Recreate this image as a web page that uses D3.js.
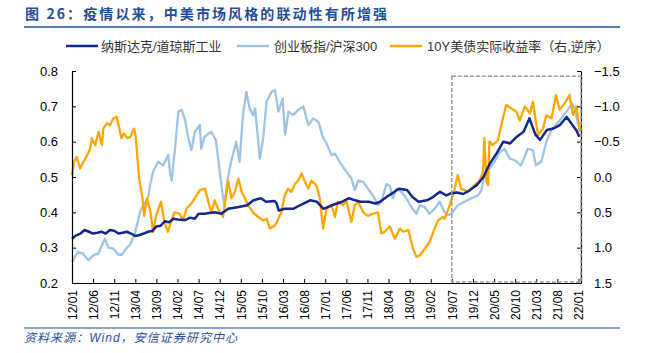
<!DOCTYPE html>
<html>
<head>
<meta charset="utf-8">
<script src="https://cdn.jsdelivr.net/npm/d3@7"></script>
<style>
  html, body { margin: 0; padding: 0; background: #fff; }
  svg { display: block; font-family: "Liberation Sans", Arial, "Noto Sans CJK SC", sans-serif; }
</style>
</head>
<body>
<div id="chart"></div>
<script>
// x = months since 2012-01
const tickLabels = ["12/01","12/06","12/11","13/04","13/09","14/02","14/07","14/12","15/05","15/10","16/03","16/08",
  "17/01","17/06","17/11","18/04","18/09","19/02","19/07","19/12","20/05","20/10","21/03","21/08","22/01"];
const seriesNames = ["纳斯达克/道琼斯工业", "创业板指/沪深300", "10Y美债实际收益率（右,逆序）"];

// 纳斯达克/道琼斯工业 (left axis)
const nasdaqDow = [
  [0,0.325],[1,0.335],[2,0.34],[3,0.35],[4,0.345],[5,0.34],[6,0.342],[7,0.345],[8,0.34],[9,0.35],[10,0.348],
  [11,0.34],[12,0.342],[13,0.345],[14,0.34],[15,0.333],[16,0.336],[17,0.34],[18,0.345],[19,0.347],[20,0.36],
  [21,0.362],[22,0.375],[23,0.372],[24,0.382],[25,0.38],[26.8,0.378],[28,0.385],[29.1,0.382],[30,0.396],
  [31.4,0.396],[33.8,0.4],[35.4,0.396],[37,0.41],[39.5,0.415],[41.5,0.42],[43,0.434],[44.7,0.44],[46,0.43],
  [48,0.432],[48.5,0.425],[49,0.405],[50.4,0.41],[52.4,0.41],[54,0.42],[56.4,0.434],[58,0.43],[59.2,0.415],
  [59.6,0.41],[61.6,0.42],[64,0.43],[65.6,0.44],[67.1,0.434],[68.3,0.43],[70.3,0.43],[71.9,0.425],[73,0.43],
  [74.6,0.444],[76,0.455],[77.4,0.467],[79.4,0.463],[80.6,0.444],[82.1,0.43],[84.1,0.434],[85.6,0.444],
  [87.2,0.458],[88.7,0.448],[89.6,0.453],[91.2,0.456],[92.7,0.452],[94.3,0.463],[95.9,0.477],[97.5,0.5],
  [99,0.538],[100.6,0.567],[102.2,0.6],[103.8,0.595],[105.4,0.614],[107,0.628],[108.4,0.666],[109.8,0.62],
  [110.9,0.605],[112.5,0.633],[114,0.637],[115.6,0.647],[117.2,0.67],[118.4,0.65],[119.6,0.63],[120.2,0.614]
];

// 创业板指/沪深300 (left axis)
const chinextHs300 = [
  [0,0.26],[1.4,0.288],[2.6,0.283],[3.9,0.264],[5,0.278],[6.2,0.283],[7.8,0.325],[8.6,0.3],[9.8,0.297],[11,0.28],
  [11.8,0.28],[13,0.3],[13.7,0.307],[14.9,0.34],[16.1,0.4],[16.9,0.42],[18.1,0.444],[18.5,0.477],[19.2,0.515],
  [20.4,0.543],[21.6,0.533],[22.8,0.562],[23.2,0.515],[23.6,0.49],[24.4,0.58],[25.2,0.685],[26,0.69],[26.8,0.66],
  [27.5,0.614],[28.3,0.576],[29.1,0.628],[30.3,0.647],[30.6,0.58],[31.4,0.614],[33,0.628],[34.1,0.604],[35,0.515],
  [35.7,0.45],[36.1,0.42],[36.9,0.496],[37.7,0.543],[38.9,0.6],[39.7,0.543],[40.5,0.675],[41.3,0.741],[42.1,0.694],
  [42.9,0.675],[43.4,0.694],[44.5,0.552],[45.3,0.61],[46.1,0.713],[47.3,0.741],[48.1,0.746],[48.9,0.685],
  [49.9,0.722],[50.5,0.62],[51.3,0.685],[52.4,0.675],[53.6,0.69],[54.8,0.7],[56,0.647],[57.2,0.666],[58.4,0.656],
  [59.5,0.61],[60.3,0.595],[61.5,0.562],[62.3,0.566],[63.4,0.543],[65,0.515],[66.2,0.496],[67,0.463],[67.8,0.49],
  [69,0.486],[70.1,0.467],[71.3,0.448],[72.5,0.42],[73.3,0.43],[74.5,0.48],[75.3,0.475],[76,0.44],[76.9,0.467],
  [78,0.458],[79.2,0.44],[80.4,0.415],[81.6,0.396],[82.4,0.42],[83.5,0.415],[84.7,0.396],[85.9,0.41],[87.1,0.43],
  [88.3,0.4],[89.1,0.392],[89.9,0.396],[91.4,0.42],[93,0.43],[94.6,0.44],[96.2,0.448],[97,0.463],[97.7,0.505],
  [98.9,0.524],[100.1,0.543],[101.3,0.57],[102.5,0.58],[103.7,0.552],[104.9,0.548],[106.4,0.533],[108,0.58],
  [109.2,0.576],[109.9,0.533],[111.2,0.543],[112.4,0.6],[113.6,0.633],[114.7,0.647],[115.9,0.666],[117.2,0.685],
  [118.4,0.708],[119.1,0.694],[119.9,0.65],[120.5,0.633]
];

// 10Y美债实际收益率, % (right axis, reversed)
const realYield = [
  [0,-0.025],[0.5,-0.215],[1.1,-0.285],[1.9,-0.12],[2.7,-0.215],[3.4,-0.285],[4.3,-0.4],[4.7,-0.55],[5.5,-0.45],
  [6.3,-0.64],[7.1,-0.45],[7.4,-0.685],[8.3,-0.76],[9,-0.735],[9.8,-0.83],[10.6,-0.85],[11.3,-0.665],[11.7,-0.55],
  [12.3,-0.615],[13.1,-0.55],[13.9,-0.57],[14.3,-0.64],[14.7,-0.685],[15.1,-0.57],[15.9,0.02],[16.7,0.3],
  [17.1,0.55],[17.8,0.3],[18.6,0.5],[19.2,0.775],[19.9,0.55],[21.1,0.35],[21.9,0.635],[22.7,0.775],[23.5,0.635],
  [24.3,0.5],[25.5,0.52],[26.3,0.615],[27.1,0.45],[28.3,0.375],[29.1,0.3],[30.3,0.185],[31.5,0.165],[32.3,0.35],
  [33,0.5],[33.8,0.33],[34.6,0.45],[35.8,0.565],[37,0.05],[37.8,0.3],[38.6,0.21],[39.4,0.02],[40.2,0.21],
  [41,0.3],[41.7,0.4],[42.9,0.5],[44.1,0.565],[45.3,0.615],[46.1,0.59],[46.9,0.73],[48.1,0.685],[48.9,0.59],
  [49.6,0.5],[50.4,0.26],[51.2,0.165],[52,0.21],[52.8,0.1],[53.6,0.05],[54.4,-0.05],[55.2,0.07],[56,0.165],
  [56.7,0.05],[57.9,0.115],[58.7,0.3],[59.5,0.73],[60.3,0.45],[61.5,0.4],[62.3,0.565],[63,0.35],[64.2,0.4],
  [65,0.33],[66.2,0.635],[67,0.4],[67.8,0.35],[69,0.5],[70.1,0.55],[71.3,0.52],[72.5,0.5],[73.3,0.8],[74.1,0.775],
  [75.3,0.7],[76.5,0.875],[77.7,0.73],[78.5,0.775],[79.7,0.75],[80.8,1.015],[81.6,1.13],[82.4,1.11],[83.6,1.015],
  [84.7,0.92],[85.9,0.73],[86.7,0.615],[87.9,0.565],[88.3,0.59],[89.5,0.4],[90.6,0.185],[91.4,-0.025],[92.2,0.165],
  [93.8,0.21],[95.4,0.115],[96.6,0.05],[97.4,-0.075],[97.7,-0.55],[98.2,0.07],[98.6,0.115],[98.9,-0.5],[99.7,-0.45],
  [100.9,-0.52],[102.1,-0.83],[102.9,-1.02],[104.1,-0.97],[105.3,-0.925],[106.1,-0.8],[107.3,-1.0],[108.5,-0.9],
  [109.2,-1.065],[110.4,-0.59],[111.6,-0.685],[112.4,-0.875],[113.6,-0.83],[114.7,-1.16],[115.5,-0.95],
  [116.7,-1.04],[117.9,-1.16],[118.7,-0.875],[119.5,-1.0],[120.3,-0.64]
];

const leftTicks = [0.2, 0.3, 0.4, 0.5, 0.6, 0.7, 0.8];
const rightTicks = [-1.5, -1.0, -0.5, 0.0, 0.5, 1.0, 1.5];
const highlightStart = 90; // 19/07

const width = 645, height = 353;
const plot = { left: 72, right: 581, top: 71, bottom: 283 };
const colors = ["#13288c", "#9dc3e6", "#ffa600"];
const titleBlue = "#1f4e9a";

const svg = d3.select("#chart").append("svg")
  .attr("width", width)
  .attr("height", height);

const x = d3.scaleLinear().domain([0, 120.6]).range([plot.left, plot.right]);
const yL = d3.scaleLinear().domain([0.2, 0.8]).range([plot.bottom, plot.top]);
const yR = d3.scaleLinear().domain([1.5, -1.5]).range([plot.bottom, plot.top]);

// Title
svg.append("text")
  .attr("x", 25).attr("y", 19)
  .attr("fill", titleBlue)
  .attr("font-size", 14).attr("font-weight", "bold")
  .attr("font-family", "'Noto Sans CJK SC', sans-serif")
  .attr("textLength", 362).attr("lengthAdjust", "spacing")
  .text("图 26：疫情以来，中美市场风格的联动性有所增强");
svg.append("line")
  .attr("x1", 24).attr("x2", 620).attr("y1", 27).attr("y2", 27)
  .attr("stroke", titleBlue).attr("stroke-width", 1.5);

// Legend
const legendItems = [
  { x: 66, tx: 101 },
  { x: 237, tx: 274 },
  { x: 390, tx: 427 }
];
legendItems.forEach((d, i) => {
  svg.append("line")
    .attr("x1", d.x).attr("x2", d.x + 32).attr("y1", 46).attr("y2", 46)
    .attr("stroke", colors[i]).attr("stroke-width", 2.5);
  svg.append("text")
    .attr("x", d.tx).attr("y", 51)
    .attr("font-size", 13).attr("fill", "#333")
    .text(seriesNames[i]);
});

// Series
const line = (yScale) => d3.line().x(d => x(d[0])).y(d => yScale(d[1]));
const g = svg.append("g");
g.append("path").datum(chinextHs300)
  .attr("d", line(yL)).attr("fill", "none")
  .attr("stroke", colors[1]).attr("stroke-width", 2.3).attr("stroke-linejoin", "round");
g.append("path").datum(realYield)
  .attr("d", line(yR)).attr("fill", "none")
  .attr("stroke", colors[2]).attr("stroke-width", 2.3).attr("stroke-linejoin", "round");
g.append("path").datum(nasdaqDow)
  .attr("d", line(yL)).attr("fill", "none")
  .attr("stroke", colors[0]).attr("stroke-width", 2.5).attr("stroke-linejoin", "round");

// Axes
const axisFont = 13;
const left = svg.append("g")
  .attr("transform", `translate(${plot.left},0)`)
  .call(d3.axisLeft(yL).tickValues(leftTicks).tickFormat(d3.format(".1f")).tickSizeInner(-4).tickSizeOuter(0).tickPadding(14));
const right = svg.append("g")
  .attr("transform", `translate(${plot.right},0)`)
  .call(d3.axisRight(yR).tickValues(rightTicks).tickFormat(d3.format(".1f")).tickSizeInner(-4).tickSizeOuter(0).tickPadding(13));
const bottom = svg.append("g")
  .attr("transform", `translate(0,${plot.bottom})`)
  .call(d3.axisBottom(x).tickValues(d3.range(0, 121, 5)).tickFormat((d, i) => tickLabels[i]).tickSizeInner(-4).tickSizeOuter(0));

[left, right, bottom].forEach(a => {
  a.selectAll("path.domain").attr("stroke", "#000").attr("stroke-width", 1.2);
  a.selectAll(".tick line").attr("stroke", "#000");
  a.selectAll("text").attr("font-size", axisFont).attr("fill", "#000")
    .attr("font-family", "'Liberation Sans', Arial, sans-serif");
});
bottom.selectAll(".tick text")
  .attr("transform", "rotate(-90)")
  .attr("text-anchor", "end")
  .attr("x", -7).attr("y", 0).attr("dy", "0.35em")
  .attr("font-size", 12);

// Highlight box
svg.append("rect")
  .attr("x", x(highlightStart)).attr("y", yL(0.785))
  .attr("width", plot.right - x(highlightStart))
  .attr("height", yL(0.203) - yL(0.785))
  .attr("fill", "none").attr("stroke", "#999")
  .attr("stroke-width", 1.5).attr("stroke-dasharray", "4,2");

// Source
svg.append("line")
  .attr("x1", 24).attr("x2", 620).attr("y1", 328).attr("y2", 328)
  .attr("stroke", titleBlue).attr("stroke-width", 1.2);
svg.append("text")
  .attr("x", 24).attr("y", 342)
  .attr("font-size", 12).attr("font-style", "italic")
  .attr("fill", titleBlue)
  .attr("font-family", "'Liberation Sans', 'Noto Sans CJK SC', sans-serif")
  .attr("textLength", 213).attr("lengthAdjust", "spacing")
  .text("资料来源：Wind，安信证券研究中心");
</script>
</body>
</html>
